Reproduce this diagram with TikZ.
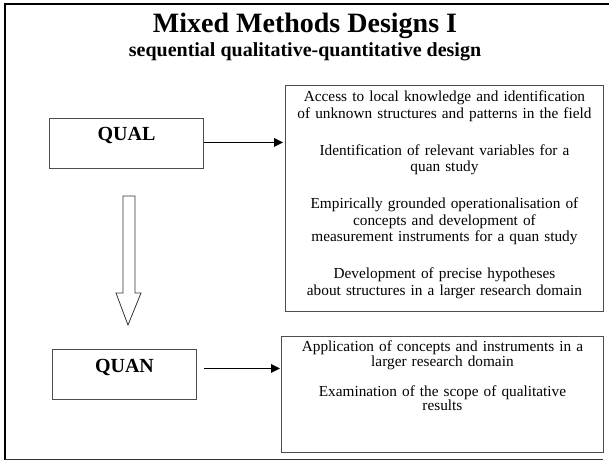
\documentclass[tikz,border=0pt]{standalone}
\usepackage{fontspec}
\setmainfont{Liberation Serif}
\usetikzlibrary{arrows.meta}

\begin{document}
\begin{tikzpicture}[x=1pt, y=-1pt]
	\tikzstyle{every node}=[inner sep=0pt, align=center]
	\tikzstyle{stage}=[draw=black!70, line width=0.9pt, anchor=north west, font=\fontsize{20}{24}\selectfont\bfseries]
	\tikzstyle{info}=[draw=black!70, line width=0.9pt, anchor=north west]
	\tikzstyle{flow}=[-{Triangle[length=9pt, width=8.5pt]}, line width=1.6pt]
	\useasboundingbox (0,0) rectangle (609,461);
	% slide frame
	\draw[line width=2.5pt] (609,4) -- (5,4) -- (5,460);
	\draw[line width=1.5pt, black!80] (5,459.5) -- (603,459.5);
	% titles
	\node[anchor=base, font=\fontsize{28}{30}\selectfont\bfseries] (title) at (305,32) {Mixed Methods Designs I};
	\node[anchor=base, font=\fontsize{20}{22}\selectfont\bfseries] (subtitle) at (305,56) {sequential qualitative-quantitative design};
	% phases
	\node[stage, minimum width=154pt, text height=14pt, text depth=20pt, inner ysep=8pt] (qual) at (49,118) {QUAL};
	\node[stage, minimum width=144pt, text height=14pt, text depth=18pt, inner ysep=9pt] (quan) at (52,349) {QUAN};
	% aims
	\node[info, text width=318pt, text height=16.5pt, text depth=209.5pt, font=\fontsize{15.3}{16.5}\selectfont] (aims1) at (285,85) {Access to local knowledge and identification\\of unknown structures and patterns in the field\\[20.5pt]
		Identification of relevant variables for a\\quan study\\[20.5pt]
		Empirically grounded operationalisation of\\concepts and development of\\measurement instruments for a quan study\\[20.5pt]
		Development of precise hypotheses\\about structures in a larger research domain};
	\node[info, text width=322pt, text height=15.5pt, text depth=100.5pt, font=\fontsize{15.3}{14.5}\selectfont] (aims2) at (281,336) {Application of concepts and instruments in a\\larger research domain\\[15.5pt]
		Examination of the scope of qualitative\\results};
	% links
	\draw[flow, shorten >=2pt] ([yshift=1pt]qual.east) -- ([yshift=1pt]qual.east -| aims1.west);
	\draw[flow, shorten <=7pt, shorten >=1pt] ([yshift=6pt]quan.east) -- ([yshift=6pt]quan.east -| aims2.west);
	% block arrow
	\draw[black!80, line width=0.8pt] (123,196) -- (135,196) -- (135,293) -- (141,293) -- (128,325) -- (116,293) -- (123,293) -- cycle;
\end{tikzpicture}
\end{document}
